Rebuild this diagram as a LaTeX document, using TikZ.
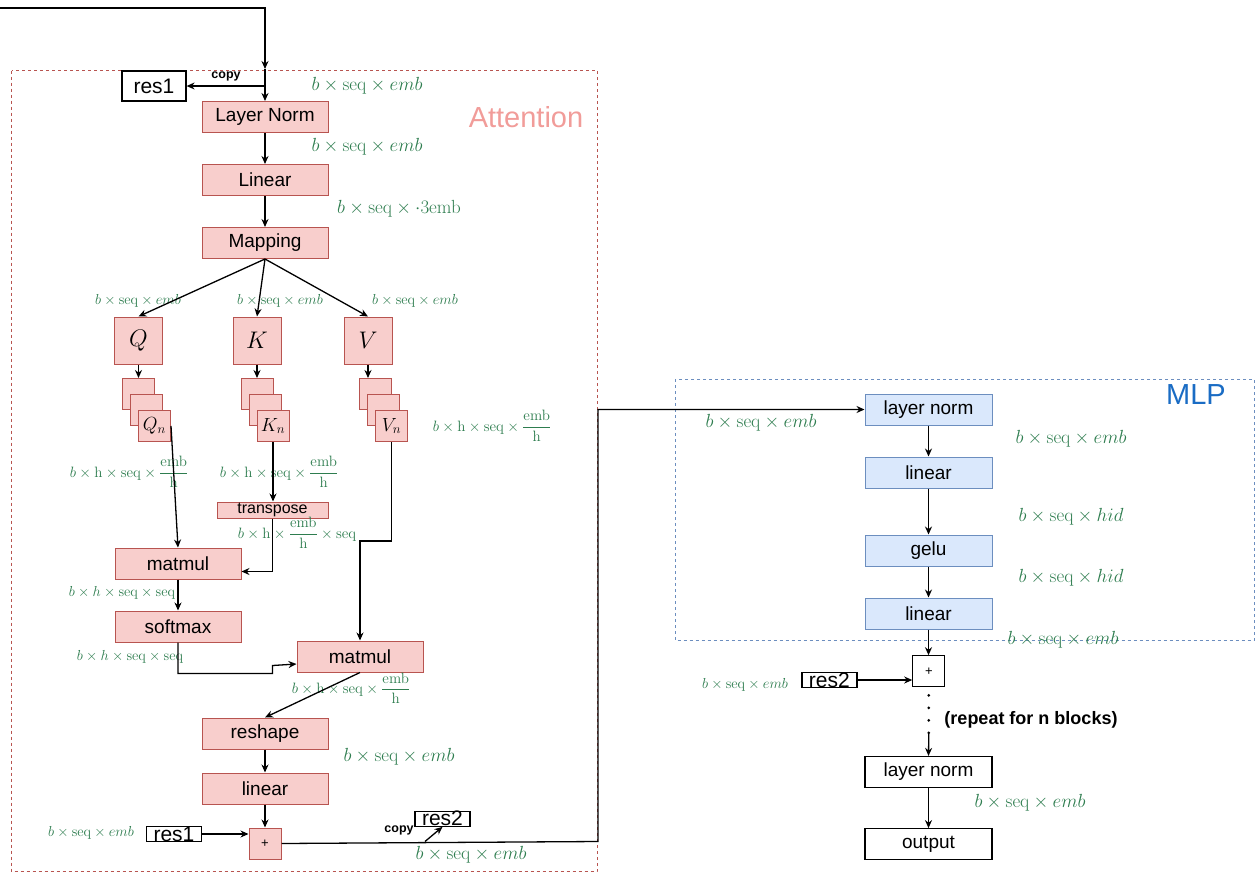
\RequirePackage{fix-cm}
\documentclass[tikz,border=0pt]{standalone}
\usepackage{amsmath}
\usepackage{amssymb}
\usepackage[no-math]{fontspec}
\setmainfont{Liberation Sans}
\usepackage{xcolor}
\usetikzlibrary{arrows.meta, positioning, calc}

\definecolor{attfill}{HTML}{F8CECC}
\definecolor{attline}{HTML}{B85450}
\definecolor{mlpfill}{HTML}{DAE8FC}
\definecolor{mlpline}{HTML}{6C8EBF}
\definecolor{dimgreen}{HTML}{2E7D4F}
\definecolor{atttext}{HTML}{F19C99}
\definecolor{mlptext}{HTML}{1A6CC4}

\begin{document}
\begin{tikzpicture}[
    x=1pt, y=-1pt,
    arrow/.style={-{Stealth[length=8pt,width=7pt]}, line width=1.3pt},
    attbox/.style={rectangle, draw=attline, fill=attfill, line width=1pt, minimum width=126pt, minimum height=31pt, inner sep=0pt, font=\fontsize{19}{22}\selectfont},
    mlpbox/.style={attbox, draw=mlpline, fill=mlpfill, minimum width=127pt},
    plainbox/.style={attbox, draw=black, fill=white, line width=1.2pt, minimum width=127pt},
    qkv/.style={attbox, minimum width=48pt, minimum height=47pt, font=\fontsize{24}{26}\selectfont},
    headbox/.style={attbox, minimum width=32pt, minimum height=31pt, font=\fontsize{19}{20}\selectfont},
    plusbox/.style={attbox, minimum width=32pt, minimum height=31pt, font=\fontsize{13}{14}\selectfont},
    resbox/.style={rectangle, draw=black, fill=white, line width=1.2pt, minimum width=55pt, inner xsep=2pt, inner ysep=0.5pt, text height=14pt, text depth=0pt, font=\fontsize{21}{22}\selectfont},
    dims/.style={text=dimgreen, inner sep=0pt, font=\fontsize{19}{22}\selectfont},
    smalldims/.style={dims, font=\fontsize{14.5}{16}\selectfont},
    fracdims/.style={dims, font=\fontsize{15}{17}\selectfont},
    copylabel/.style={inner sep=0pt, font=\fontsize{12.5}{13}\selectfont\bfseries},
    groupframe/.style={dashed, line width=0.8pt}
]
\useasboundingbox (0,0) rectangle (1255,873);

% attention block
\draw[groupframe, draw=attline] (11.5,70.5) rectangle (597,871.5);
\node[font=\fontsize{29}{32}\selectfont, text=atttext] (atttitle) at (526,117) {Attention};

\coordinate (inp) at (0,8);
\coordinate (entry) at (265,69);
\node[resbox, minimum width=64pt, minimum height=30pt] (res1) at (154,86) {res1};
\node[copylabel] (copy1) at (226,76) {copy};

\node[attbox] (ln) at (265,117) {Layer Norm};
\node[attbox, below=31pt of ln] (lin) {Linear};
\node[attbox, below=31pt of lin] (map) {Mapping};

\node[dims] (d1) at (367,86) {$b\times\mathrm{seq}\times emb$};
\node[dims] (d2) at (367,147) {$b\times\mathrm{seq}\times emb$};
\node[dims] (d3) at (399,209) {$b\times\mathrm{seq}\times{\cdot}3\mathrm{emb}$};

\node[qkv] (Q) at (138.5,340.5) {$Q$};
\node[qkv] (K) at (257,340.5) {$K$};
\node[qkv] (V) at (368,340.5) {$V$};
\node[smalldims] (dq) at (138,301) {$b\times\mathrm{seq}\times emb$};
\node[smalldims] (dk) at (280,301) {$b\times\mathrm{seq}\times emb$};
\node[smalldims] (dv) at (415,301) {$b\times\mathrm{seq}\times emb$};

% heads
\node[headbox] (Qa) at (138.5,394) {};
\node[headbox] (Qb) at (146.5,410) {};
\node[headbox] (Qn) at (154.5,426) {$Q_n$};
\node[headbox] (Ka) at (257,394) {};
\node[headbox] (Kb) at (265,410) {};
\node[headbox] (Kn) at (273,426) {$K_n$};
\node[headbox] (Va) at (375.5,394) {};
\node[headbox] (Vb) at (383.5,410) {};
\node[headbox] (Vn) at (391.5,426) {$V_n$};

\node[fracdims] (dqn) at (129,472) {$b\times\mathrm{h}\times\mathrm{seq}\times\dfrac{\mathrm{emb}}{\mathrm{h}}$};
\node[fracdims] (dkn) at (279,472) {$b\times\mathrm{h}\times\mathrm{seq}\times\dfrac{\mathrm{emb}}{\mathrm{h}}$};
\node[fracdims] (dvn) at (492,426) {$b\times\mathrm{h}\times\mathrm{seq}\times\dfrac{\mathrm{emb}}{\mathrm{h}}$};

\node[attbox, minimum width=111pt, minimum height=16pt, font=\fontsize{16}{17}\selectfont] (tr) at (272.5,510) {transpose};
\node[fracdims] (dtr) at (297,533) {$b\times\mathrm{h}\times\dfrac{\mathrm{emb}}{\mathrm{h}}\times\mathrm{seq}$};

\node[attbox] (mm1) at (178,563.5) {matmul};
\node[attbox, below=31pt of mm1] (sm) {softmax};
\node[attbox] (mm2) at (360,656.5) {matmul};
\node[smalldims] (dmm1) at (122,593) {$b\times h\times\mathrm{seq}\times\mathrm{seq}$};
\node[smalldims] (dsm) at (130,657) {$b\times h\times\mathrm{seq}\times\mathrm{seq}$};
\node[fracdims] (dmm2) at (351,688) {$b\times\mathrm{h}\times\mathrm{seq}\times\dfrac{\mathrm{emb}}{\mathrm{h}}$};

\node[attbox] (rs) at (265,733.5) {reshape};
\node[attbox, below=23pt of rs] (lin2) {linear};
\node[plusbox, below=23pt of lin2] (p1) {+};
\node[dims] (drs) at (399,757) {$b\times\mathrm{seq}\times emb$};

\node[resbox] (res1b) at (174,834) {res1};
\node[smalldims] (dres1) at (91,833) {$b\times\mathrm{seq}\times emb$};
\node[resbox] (res2) at (442.5,818.7) {res2};
\node[copylabel] (copy2) at (399,830) {copy};
\node[dims] (dout) at (471,855) {$b\times\mathrm{seq}\times emb$};
\coordinate (cp2) at (425,841.5);
\coordinate (bend) at (598,841.5);

\draw[arrow] (inp) -| (entry);
\draw[arrow] (entry) -- (ln.north);
\draw[arrow] (entry |- res1.east) -- (res1.east);
\draw[arrow] (ln) -- (lin);
\draw[arrow] (lin) -- (map);
\draw[arrow] (map.south) -- (Q.north);
\draw[arrow] (map.south) -- (K.north);
\draw[arrow] (map.south) -- (V.north);
\draw[arrow] (Q) -- (Qa);
\draw[arrow] (K) -- (Ka);
\draw[arrow] (V.south) -- (V.south |- Va.north);
\draw[arrow] (Qn.east) -- (mm1.north);
\draw[arrow] (Kn.south) -- (Kn.south |- tr.north);
\draw[arrow] (tr.south) |- ($(mm1.east)+(0,8)$);
\draw[arrow] (Vn.south) -- ++(0,99) -| (mm2.north);
\draw[arrow] (mm1) -- (sm);
\draw[arrow] (sm.south) -- ++(0,31) -- ++(94.5,0) -- ++(0,-8) -- ($(mm2.west)+(0,7.5)$);
\draw[arrow] (mm2.south) -- (rs.north);
\draw[arrow] (rs) -- (lin2);
\draw[arrow] (lin2) -- (p1);
\draw[arrow] (res1b.east) -- (res1b.east -| p1.west);
\draw[arrow] (cp2) -- (res2.south);

% mlp block
\draw[groupframe, draw=mlpline] (675,379) rectangle (1254,640.5);
\node[font=\fontsize{29}{32}\selectfont, text=mlptext] (mlptitle) at (1196,395) {MLP};

\node[mlpbox] (mln) at (928.5,409.5) {layer norm};
\node[mlpbox, below=31pt of mln] (ml1) {linear};
\node[mlpbox, below=46pt of ml1] (mgelu) {gelu};
\node[mlpbox, below=31pt of mgelu] (ml2) {linear};

\node[dims] (dm0) at (761,423) {$b\times\mathrm{seq}\times emb$};
\node[dims] (dm1) at (1071,439) {$b\times\mathrm{seq}\times emb$};
\node[dims] (dm2) at (1071,517) {$b\times\mathrm{seq}\times hid$};
\node[dims] (dm3) at (1071,578) {$b\times\mathrm{seq}\times hid$};
\node[dims] (dm4) at (1063,640) {$b\times\mathrm{seq}\times emb$};

\node[plusbox, draw=black, fill=white, line width=1.2pt] (p2) at (928.8,671.3) {+};
\node[resbox] (res2b) at (829.4,680) {res2};
\node[smalldims] (dres2) at (745,685) {$b\times\mathrm{seq}\times emb$};
\coordinate (dotend) at (928.8,734);
\node[font=\fontsize{18}{20}\selectfont\bfseries] (rep) at (1031,720) {(repeat for n blocks)};

\node[plainbox] (fln) at (928.5,772) {layer norm};
\node[plainbox, below=40pt of fln] (out) {output};
\node[dims] (dfln) at (1030,803) {$b\times\mathrm{seq}\times emb$};

\draw[arrow] (p1.east) -- (bend) |- (mln.west);
\draw[arrow] (mln) -- (ml1);
\draw[arrow] (ml1) -- (mgelu);
\draw[arrow] (mgelu) -- (ml2);
\draw[arrow] (ml2.south) -- (ml2.south |- p2.north);
\draw[arrow] (res2b.east) -- (res2b.east -| p2.west);
\draw[line width=3pt, line cap=round, dash pattern=on 0pt off 12.5pt, shorten <=8pt] (p2.south) -- (dotend);
\draw[arrow] (dotend) -- (fln.north);
\draw[arrow] (fln) -- (out);

\end{tikzpicture}
\end{document}
